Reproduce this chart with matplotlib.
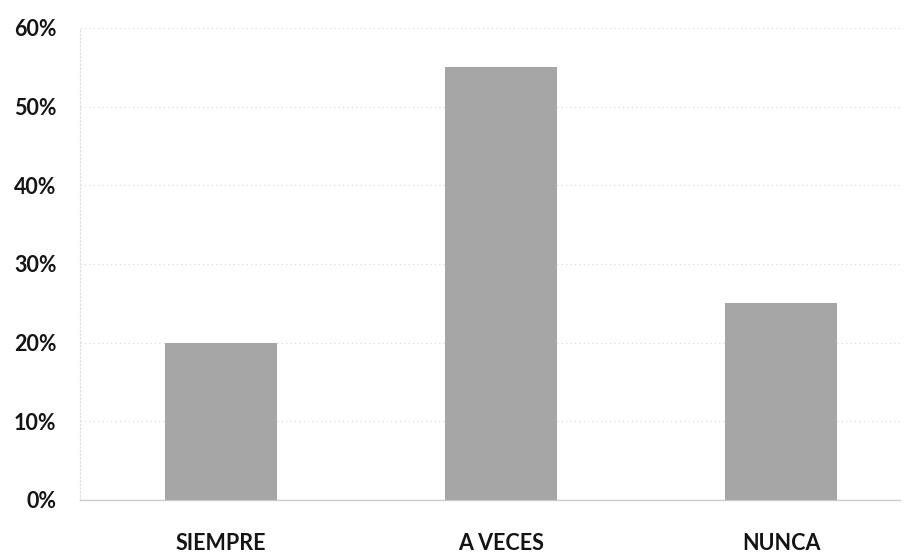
import matplotlib
matplotlib.use("Agg")
import matplotlib.pyplot as plt
from matplotlib.ticker import PercentFormatter

categories = ["SIEMPRE", "A VECES", "NUNCA"]
values = [20, 55, 25]
y_ticks = [0, 10, 20, 30, 40, 50, 60]

plt.rcParams['font.family'] = ['Lato', 'DejaVu Sans']

fig = plt.figure(figsize=(9.05, 5.53), dpi=100)
ax = fig.add_axes([80 / 905, 53 / 553, 820 / 905, 472 / 553])

x = list(range(len(categories)))
ax.bar(x, values, width=0.4, color="#a6a6a6", zorder=3)

ax.set_ylim(0, 60)
ax.set_xlim(-0.504, 2.425)
ax.set_yticks(y_ticks)
ax.yaxis.set_major_formatter(PercentFormatter(decimals=0))
ax.set_xticks(x)
ax.set_xticklabels(categories)

ax.grid(axis="y", color="#dcdcdc", linestyle=(0, (1, 2.5)), linewidth=0.9, zorder=0)
for side in ["top", "right"]:
    ax.spines[side].set_visible(False)
ax.spines["left"].set_color("#dedede")
ax.spines["left"].set_linestyle((0, (1, 2)))
ax.spines["left"].set_linewidth(0.9)
ax.spines["bottom"].set_color("#cccccc")
ax.spines["bottom"].set_linestyle((0, (1.5, 1)))
ax.spines["bottom"].set_linewidth(1.0)

ax.tick_params(axis="both", length=0, labelcolor="#141414")
ax.tick_params(axis="y", pad=17, labelsize=15.5)
ax.tick_params(axis="x", pad=24, labelsize=15.5)
for lbl in ax.get_xticklabels() + ax.get_yticklabels():
    lbl.set_fontweight("bold")

fig.savefig("out.png", dpi=100, facecolor="white")
